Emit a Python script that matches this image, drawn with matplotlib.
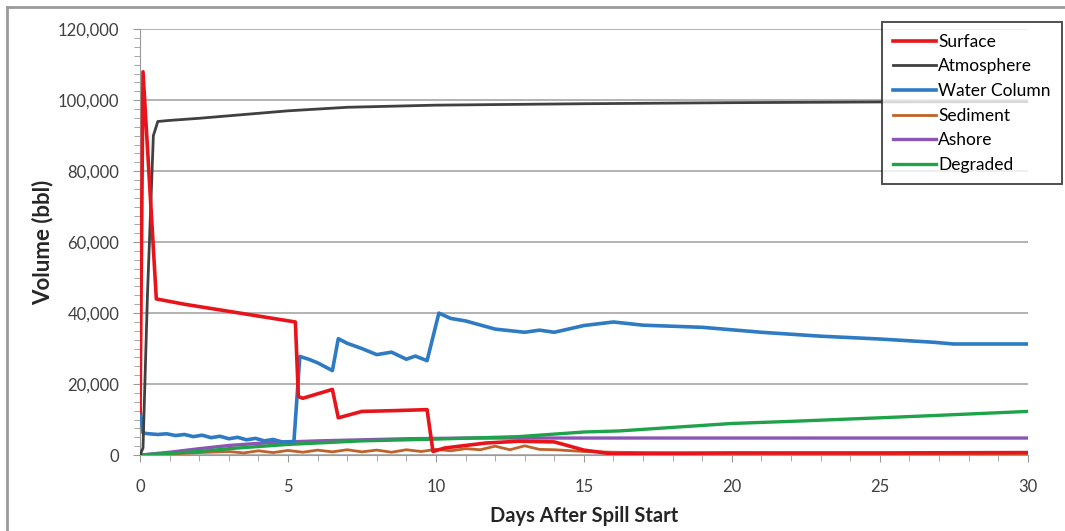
import numpy as np
import matplotlib.pyplot as plt
from matplotlib.ticker import MultipleLocator, FuncFormatter
from matplotlib.lines import Line2D

plt.rcParams['font.family'] = ['Lato', 'DejaVu Sans']

# ---------------- data ----------------
t_surface = [0, 0.1, 0.55, 1.5, 3, 4.5, 5.25, 5.35, 5.5, 6.5, 6.7, 7.5, 8.5, 9.7, 9.9, 10.3,
             11, 11.7, 12.8, 14.0, 14.4, 15.0, 15.9, 18, 20, 25, 30]
surface = [12000, 108000, 44000, 42500, 40500, 38500, 37500, 16500, 16000, 18500, 10500, 12300,
           12500, 12800, 1000, 2000, 2700, 3400, 3900, 3700, 2800, 1400, 400, 500, 600, 600, 700]

t_atmos = [0, 0.1, 0.25, 0.45, 0.6, 1, 2, 3, 5, 7, 10, 15, 20, 25, 30]
atmos = [0, 2000, 45000, 90000, 94000, 94300, 94900, 95600, 97000, 98000, 98600, 99000,
         99300, 99500, 99600]

t_water = [0, 0.1, 0.3, 0.6, 0.9, 1.2, 1.5, 1.8, 2.1, 2.4, 2.7, 3.0, 3.3, 3.6, 3.9, 4.2,
           4.5, 4.8, 5.2, 5.4, 5.7, 6.0, 6.5, 6.7, 7.0, 7.5, 8.0, 8.5, 9.0, 9.3, 9.7, 10.1,
           10.5, 11, 12, 13, 13.5, 14, 15, 16, 17, 18, 19, 21, 23, 25, 26.8, 27.5, 30]
water = [13000, 6200, 6000, 5800, 6000, 5500, 5800, 5200, 5600, 4900, 5300, 4600, 5000, 4300,
         4700, 4000, 4400, 3700, 3800, 27800, 27000, 26000, 23800, 32800, 31500, 30000, 28300,
         29000, 27000, 27900, 26600, 40000, 38500, 37800, 35500, 34600, 35200, 34600, 36500,
         37500, 36600, 36300, 36000, 34600, 33500, 32700, 31800, 31300, 31300]

t_sediment = [0, 1, 2, 3, 3.5, 4, 4.5, 5, 5.5, 6, 6.5, 7, 7.5, 8, 8.5, 9, 9.5, 10, 10.5, 11,
              11.5, 12, 12.5, 13, 13.5, 14, 15, 16, 18, 20, 25, 30]
sediment = [0, 300, 700, 1000, 600, 1200, 700, 1300, 800, 1400, 900, 1500, 900, 1400, 800,
            1500, 1000, 1600, 1200, 1800, 1500, 2500, 1500, 2600, 1600, 1500, 1000, 800, 600,
            500, 400, 300]

t_ashore = [0, 1, 2, 3, 4, 5, 6, 7, 8, 9, 10, 11, 15, 20, 25, 30]
ashore = [0, 800, 1800, 2700, 3300, 3700, 4000, 4200, 4400, 4600, 4700, 4800, 4800, 4800,
          4800, 4800]

t_degraded = [0, 1, 2, 3, 5, 7.5, 10, 12.8, 15, 16.2, 18, 20, 22, 25, 27, 30]
degraded = [0, 500, 1000, 1800, 3000, 4000, 4500, 5200, 6500, 6800, 7800, 8900, 9500, 10500,
            11200, 12300]

# ---------------- plot ----------------
fig = plt.figure(figsize=(10.65, 5.31), dpi=100)
ax = fig.add_axes([0.1315, 0.143, 0.8335, 0.802])

ax.plot(t_surface, surface, color='#e8141c', lw=2.6, label='Surface', zorder=6)
ax.plot(t_atmos, atmos, color='#404040', lw=2.0, label='Atmosphere', zorder=5)
ax.plot(t_water, water, color='#2e7bc4', lw=2.6, label='Water Column', zorder=4)
ax.plot(t_sediment, sediment, color='#c0632a', lw=2.0, label='Sediment', zorder=3)
ax.plot(t_ashore, ashore, color='#8b55b5', lw=2.4, label='Ashore', zorder=3)
ax.plot(t_degraded, degraded, color='#1fa34a', lw=2.4, label='Degraded', zorder=3)

ax.set_xlim(0, 30)
ax.set_ylim(0, 120000)
ax.xaxis.set_major_locator(MultipleLocator(5))
ax.xaxis.set_minor_locator(MultipleLocator(1))
ax.yaxis.set_major_locator(MultipleLocator(20000))
ax.yaxis.set_minor_locator(MultipleLocator(2500))
ax.yaxis.set_major_formatter(FuncFormatter(lambda v, p: f'{int(v):,}'))
ax.tick_params(axis='both', which='both', direction='out', color='#999999', labelsize=12,
               labelcolor='#404040')
ax.tick_params(axis='both', which='major', length=5)
ax.tick_params(axis='both', which='minor', length=4)
ax.tick_params(axis='x', pad=12)
ax.tick_params(axis='y', pad=10)
ax.grid(axis='y', which='major', color='#a6a6a6', lw=1.2)
ax.set_axisbelow(True)
for s in ['top', 'right']:
    ax.spines[s].set_visible(False)
for s in ['left', 'bottom']:
    ax.spines[s].set_color('#999999')

ax.set_xlabel('Days After Spill Start', fontsize=14.5, fontweight='bold', labelpad=8,
              color='#262626')
ax.set_ylabel('Volume (bbl)', fontsize=16, fontweight='bold', labelpad=3, color='#262626')

leg = fig.legend(loc='upper right', bbox_to_anchor=(0.997, 0.958), fontsize=12.5,
                 frameon=True, fancybox=False, edgecolor='#222222', handlelength=2.5,
                 handletextpad=0.1, labelspacing=0.5, borderpad=0.65, borderaxespad=0)
leg.get_frame().set_linewidth(1.4)

# chart-area border (only top and left are visible in the crop)
fig.add_artist(Line2D([0.0065, 1.0], [0.987, 0.987], transform=fig.transFigure,
                      color='#9a9a9a', lw=2))
fig.add_artist(Line2D([0.0065, 0.0065], [0.0, 0.987], transform=fig.transFigure,
                      color='#9a9a9a', lw=2))

fig.savefig('out.png', dpi=100)
